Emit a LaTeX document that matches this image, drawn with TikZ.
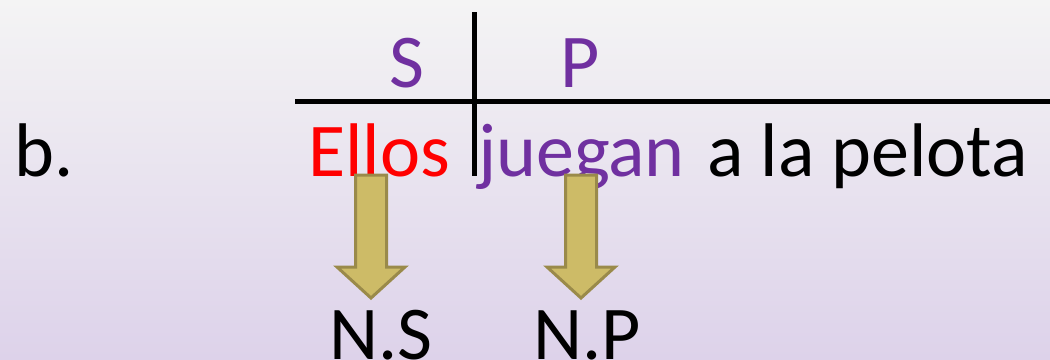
\documentclass[tikz,border=0pt]{standalone}
\usepackage{fontspec}
\setmainfont{Carlito}
\usepackage{xcolor}
\usetikzlibrary{positioning,calc}

\definecolor{sujeto}{HTML}{FF0000}
\definecolor{morado}{HTML}{7030A0}
\definecolor{caqui}{HTML}{CDBB67}
\definecolor{caquiborde}{HTML}{9A8A4A}
\definecolor{fondoarriba}{HTML}{F4F4F4}
\definecolor{fondoabajo}{HTML}{DDD2EA}

\tikzset{
  palabra/.style={inner sep=0pt, anchor=base west, font=\fontsize{76}{90}\selectfont},
  raya/.style={line width=5pt},
  flecha/.style={draw=caquiborde, fill=caqui, line width=3pt, line join=miter}
}

\newcommand{\flechaabajo}[1]{%
  \draw[flecha] ($(#1)+(-15.5,0)$) -- ++(31,0) -- ++(0,92) -- ++(18.5,0)
    -- ($(#1)+(0,123)$) -- ++(-34,-31) -- ++(18.5,0) -- cycle;}

\begin{document}
\begin{tikzpicture}[x=1pt,y=-1pt]
  % fondo
  \fill[top color=fondoarriba, bottom color=fondoabajo] (0,0) rectangle (1050,359);
  \useasboundingbox (0,0) rectangle (1050,359);

  % cuadro S | P
  \coordinate (hizq) at (295,101);
  \coordinate (hder) at (1050,101);
  \coordinate (varr) at (474,12);
  \coordinate (vaba) at (474,176);
  \draw[raya] (hizq) -- (hder);
  \draw[raya] (varr) -- (vaba);

  \node[palabra, anchor=base, text=morado] (S) at (407,87) {S};
  \node[palabra, anchor=base, text=morado] (P) at (580,87) {P};

  % oracion
  \node[palabra] (b) at (14,176) {b.};
  \node[palabra, text=sujeto] (ellos) at (308,176) {Ellos};
  \node[palabra, text=morado] (juegan) at (478,176) {juegan};
  \node[palabra] (resto) at (707,176) {a la pelota};

  % nucleos
  \node[palabra] (NS) at (329,359) {N.S};
  \node[palabra] (NP) at (533,359) {N.P};

  \coordinate (fS) at (371,175);
  \coordinate (fP) at (581,175);
  \flechaabajo{fS}
  \flechaabajo{fP}
\end{tikzpicture}
\end{document}
